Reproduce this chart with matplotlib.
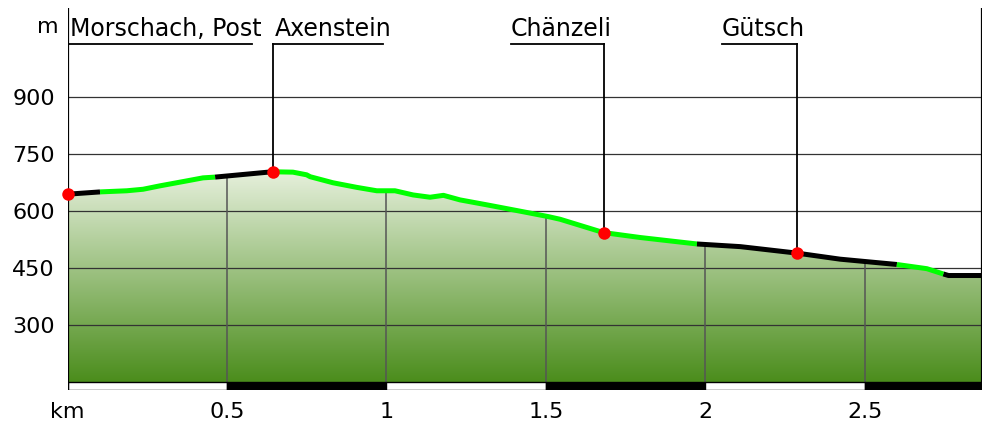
import numpy as np
import matplotlib
matplotlib.use('Agg')
import matplotlib.pyplot as plt
from matplotlib.patches import Polygon, Rectangle
from matplotlib.colors import LinearSegmentedColormap

# ---- data ----
dist_km = [0.0, 0.102, 0.186, 0.237, 0.290, 0.374, 0.425, 0.463, 0.629, 0.644,
           0.707, 0.750, 0.761, 0.833, 0.907, 0.970, 1.027, 1.084, 1.137, 1.179,
           1.231, 1.315, 1.409, 1.508, 1.545, 1.681, 1.796, 1.974, 2.110, 2.287,
           2.423, 2.601, 2.695, 2.747, 2.763, 2.868]
elev_m = [645, 651, 654, 658, 667, 680, 688, 690, 703, 704,
          703, 696, 691, 675, 663, 654, 654, 643, 637, 642,
          630, 617, 602, 586, 579, 544, 531, 514, 507, 490,
          474, 460, 449, 435, 431, 431]

# surface type sections (km boundaries) and their line colours
section_km = [0.0, 0.102, 0.463, 0.644, 1.974, 2.601, 2.747, 2.868]
section_color = ['#000000', '#00ff00', '#000000', '#00ff00', '#000000', '#00ff00', '#000000']

stop_names = ["Morschach, Post", "Axenstein", "Chänzeli", "Gütsch"]
stop_km = [0.0, 0.644, 1.681, 2.287]
stop_elev = [645, 704, 544, 490]
stop_side = ['left', 'left', 'right', 'right']

y_ticks = [300, 450, 600, 750, 900]
y_tick_labels = ['300', '450', '600', '750', '900']
x_ticks = [0, 0.5, 1, 1.5, 2, 2.5]
x_tick_labels = ['km', '0.5', '1', '1.5', '2', '2.5']
bar_km = [0, 0.5, 1, 1.5, 2, 2.5, 2.868]

plt.rcParams['font.family'] = ['DejaVu Sans']

W, H = 985, 428
fig = plt.figure(figsize=(W / 100, H / 100), dpi=100)
x_left, x_right, y_top, y_bot = 67.5, 982, 8, 390
ax = fig.add_axes([x_left / W, 1 - y_bot / H, (x_right - x_left) / W, (y_bot - y_top) / H])

d = np.array(dist_km)
e = np.array(elev_m)
xmax = d[-1]
base = 150
ymin, ymax = 129.7, 1135
ax.set_xlim(0, xmax)
ax.set_ylim(ymin, ymax)
for s in ax.spines.values():
    s.set_visible(False)

# gradient fill
poly_xy = np.vstack([np.column_stack([d, e]), [[xmax, base], [0, base]]])
poly = Polygon(poly_xy, closed=True, facecolor='none', edgecolor='none')
ax.add_patch(poly)
cmap = LinearSegmentedColormap.from_list('g', ['#4b8d1c', '#e6f0dc'])
grad = np.linspace(0, 1, 256).reshape(-1, 1)
im = ax.imshow(grad, cmap=cmap, origin='lower', aspect='auto',
               extent=[0, xmax, base, e.max()], zorder=1, interpolation='bilinear')
im.set_clip_path(poly)

# grid
for yt in y_ticks:
    ax.axhline(yt, color='#333333', lw=0.9, zorder=2)
for xt in x_ticks[1:]:
    ax.vlines(xt, base, np.interp(xt, d, e), color='#555555', lw=1.1, zorder=2)

# km bar
for i in range(len(bar_km) - 1):
    ax.add_patch(Rectangle((bar_km[i], ymin + 0.5), bar_km[i + 1] - bar_km[i], base - ymin - 0.5,
                           facecolor='black' if i % 2 else 'white', edgecolor='black',
                           lw=1, zorder=3))

# border lines
ax.axvline(0, color='black', lw=1.6, zorder=5)
ax.axvline(xmax, color='black', lw=1.6, zorder=5)

# profile line by sections
for i, c in enumerate(section_color):
    a, b = section_km[i], section_km[i + 1]
    m = (d >= a - 1e-9) & (d <= b + 1e-9)
    ax.plot(d[m], e[m], color=c, lw=3.6, solid_capstyle='butt', solid_joinstyle='round', zorder=6)

# stops: leaders and labels
fig.canvas.draw()
renderer = fig.canvas.get_renderer()
inv = ax.transData.inverted()
label_y = 1061
line_y = 1039
px = (xmax) / (x_right - x_left)
for name, sk, se, side in zip(stop_names, stop_km, stop_elev, stop_side):
    if side == 'left':
        t = ax.text(sk + 2 * px, label_y, name, fontsize=17, ha='left', va='baseline', zorder=7)
        bb = t.get_window_extent(renderer)
        right = inv.transform((bb.x1, 0))[0]
        ax.plot([sk, right - 9 * px], [line_y, line_y], color='black', lw=1.3, zorder=7)
    else:
        t = ax.text(sk + 8 * px, label_y, name, fontsize=17, ha='right', va='baseline', zorder=7)
        bb = t.get_window_extent(renderer)
        left = inv.transform((bb.x0, 0))[0]
        ax.plot([left, sk], [line_y, line_y], color='black', lw=1.3, zorder=7)
    ax.plot([sk, sk], [line_y, se], color='black', lw=1.3, zorder=7)
    ax.plot(sk, se, 'o', color='#ff0000', ms=9, mec='none', zorder=8, clip_on=False)

# ticks
ax.set_yticks(y_ticks)
ax.set_yticklabels(y_tick_labels)
ax.set_xticks(x_ticks)
ax.set_xticklabels(x_tick_labels)
ax.tick_params(axis='both', length=0, labelsize=16)
ax.tick_params(axis='y', pad=9)
ax.tick_params(axis='x', pad=9)
ax.text(-20 * px, 1085, 'm', fontsize=16, ha='center', va='center')

fig.savefig('out.png', dpi=100)
